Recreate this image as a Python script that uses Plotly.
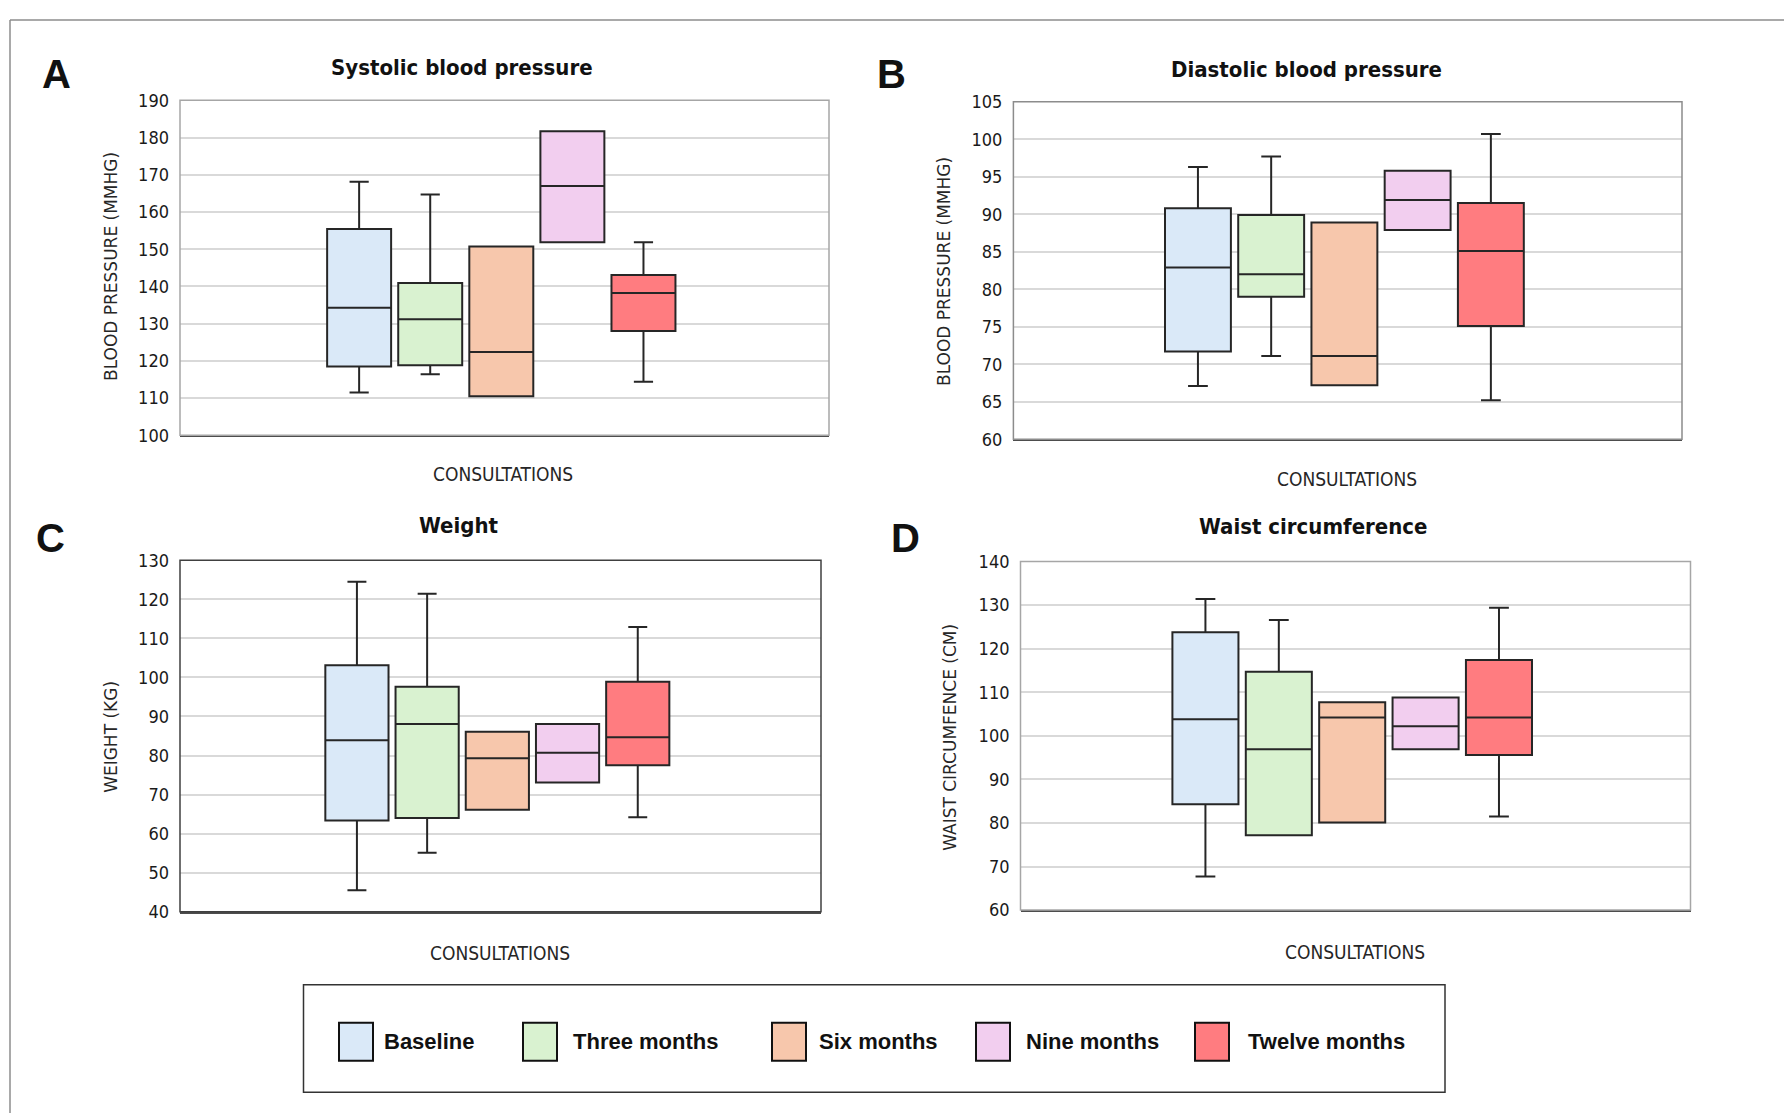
import plotly.graph_objects as go

# Page placement observed in the renderer: x_out = x_fig + 8, y_out = 0.9815 * y_fig + 17.9
OX = 8
OY = 17.9
SY = 0.9815
W, H = 1776, 1116

categories = ["Baseline", "Three months", "Six months", "Nine months", "Twelve months"]
colors = ["#DAE9F8", "#D9F2D0", "#F7C7AC", "#F2CEEF", "#FF7C80"]

# Systolic blood pressure (mmHg)
sbp_lower = [111.5, 116.4, 110.5, 151.9, 114.4]
sbp_q1 = [118.5, 118.8, 110.5, 151.9, 128.0]
sbp_median = [134.3, 131.2, 122.4, 167.0, 138.2]
sbp_q3 = [155.4, 140.9, 150.7, 181.7, 143.1]
sbp_upper = [168.1, 164.7, 150.7, 181.7, 151.9]

# Diastolic blood pressure (mmHg)
dbp_lower = [67.1, 71.1, 67.2, 87.9, 65.2]
dbp_q1 = [71.7, 79.0, 67.2, 87.9, 75.1]
dbp_median = [82.9, 82.0, 71.1, 91.9, 85.1]
dbp_q3 = [90.8, 89.9, 88.9, 95.8, 91.5]
dbp_upper = [96.3, 97.7, 88.9, 95.8, 100.7]

# Weight (kg)
wt_lower = [45.5, 55.1, 66.1, 73.1, 64.2]
wt_q1 = [63.4, 64.0, 66.1, 73.1, 77.5]
wt_median = [83.9, 88.1, 79.3, 80.7, 84.7]
wt_q3 = [103.1, 97.6, 86.1, 88.1, 98.9]
wt_upper = [124.5, 121.4, 86.1, 88.1, 112.9]

# Waist circumference (cm)
wc_lower = [67.7, 77.2, 80.1, 96.9, 81.5]
wc_q1 = [84.3, 77.2, 80.1, 96.9, 95.6]
wc_median = [103.8, 96.9, 104.2, 102.2, 104.2]
wc_q3 = [123.8, 114.7, 107.7, 108.8, 117.4]
wc_upper = [131.4, 126.6, 107.7, 108.8, 129.4]

panel_letters = ["A", "B", "C", "D"]
panel_titles = ["Systolic blood pressure", "Diastolic blood pressure", "Weight", "Waist circumference"]
y_titles = ["BLOOD PRESSURE (MMHG)", "BLOOD PRESSURE (MMHG)", "WEIGHT (KG)", "WAIST CIRCUMFENCE (CM)"]
x_title = "CONSULTATIONS"
y_ranges = [[100, 190], [60, 105], [40, 130], [60, 140]]
y_dticks = [10, 5, 10, 10]


def px(x):
    return (x - OX) / W


def py(y):
    return 1 - ((y - OY) / SY) / H


# plot-area pixel boxes (window coords): left, right, top, bottom
areas = [
    (180, 829, 99.3, 434.3),
    (1013.4, 1682, 100.7, 438.3),
    (180, 821, 559.3, 911),
    (1020.5, 1690.5, 560.7, 909.3),
]
border_colors = ["#a6a6a6", "#8c8c8c", "#404040", "#a6a6a6"]
letter_pos = [(40, 73), (875, 73), (34, 537), (889, 537)]
title_pos = [(462, 66), (1306, 68), (459, 525), (1313, 526)]
ytitle_pos = [(111, 266), (944, 270), (111, 736), (950, 736)]
xtitle_pos = [(503, 473), (1347, 478), (500, 952), (1355, 951)]

panels = [
    (sbp_lower, sbp_q1, sbp_median, sbp_q3, sbp_upper),
    (dbp_lower, dbp_q1, dbp_median, dbp_q3, dbp_upper),
    (wt_lower, wt_q1, wt_median, wt_q3, wt_upper),
    (wc_lower, wc_q1, wc_median, wc_q3, wc_upper),
]

NARROW = "Liberation Sans Narrow, DejaVu Sans Condensed, Arial Narrow, sans-serif"
WIDE = "DejaVu Sans, Verdana, sans-serif"
BOLD = "Liberation Sans, Arial, sans-serif"

fig = go.Figure()
layout = dict(
    width=W, height=H,
    margin=dict(l=0, r=0, t=0, b=0),
    paper_bgcolor="white", plot_bgcolor="white",
    showlegend=False,
    hovermode=False,
)
shapes = []
annotations = []

for i, (lo, q1, med, q3, up) in enumerate(panels):
    n = "" if i == 0 else str(i + 1)
    xa, ya = "x" + n, "y" + n
    for j, cat in enumerate(categories):
        fig.add_trace(go.Box(
            x=[cat], q1=[q1[j]], median=[med[j]], q3=[q3[j]],
            lowerfence=[lo[j]], upperfence=[up[j]],
            width=0.9, whiskerwidth=0.3,
            fillcolor=colors[j],
            line=dict(color="#262626", width=2),
            boxpoints=False, name=cat, showlegend=False,
            xaxis=xa, yaxis=ya,
        ))
    l, r, t, b = areas[i]
    layout["xaxis" + n] = dict(
        domain=[px(l), px(r)], anchor=ya, type="category",
        categoryorder="array", categoryarray=categories,
        range=[-2.52, 6.61], showticklabels=False, showgrid=False,
        zeroline=False, showline=True, linecolor="#4d4d4d", linewidth=1.5,
        ticks="",
    )
    layout["yaxis" + n] = dict(
        domain=[py(b), py(t)], anchor=xa, range=y_ranges[i], dtick=y_dticks[i],
        showgrid=True, gridcolor="#d9d9d9", gridwidth=2, zeroline=False,
        showline=False, ticks="", ticklabelstandoff=10,
        tickfont=dict(family=NARROW, size=18, color="#1a1a1a"),
    )
    shapes.append(dict(
        type="rect", xref=xa + " domain", yref=ya + " domain",
        x0=0, x1=1, y0=0, y1=1, line=dict(color=border_colors[i], width=1.5),
        layer="above",
    ))
    lx, ly = letter_pos[i]
    annotations.append(dict(
        text="<b>%s</b>" % panel_letters[i], x=px(lx), y=py(ly), xref="paper", yref="paper",
        xanchor="left", yanchor="middle", showarrow=False,
        font=dict(family=BOLD, size=40, color="#111111"),
    ))
    tx, ty = title_pos[i]
    annotations.append(dict(
        text="<b>%s</b>" % panel_titles[i], x=px(tx), y=py(ty), xref="paper", yref="paper",
        xanchor="center", yanchor="middle", showarrow=False,
        font=dict(family=NARROW, size=22, color="#111111"),
    ))
    yx, yy = ytitle_pos[i]
    annotations.append(dict(
        text=y_titles[i], x=px(yx), y=py(yy), xref="paper", yref="paper",
        xanchor="center", yanchor="middle", textangle=-90, showarrow=False,
        font=dict(family=WIDE, size=17, color="#262626"),
    ))
    xx, xy = xtitle_pos[i]
    annotations.append(dict(
        text=x_title, x=px(xx), y=py(xy), xref="paper", yref="paper",
        xanchor="center", yanchor="middle", showarrow=False,
        font=dict(family=NARROW, size=19, color="#262626"),
    ))

# Legend box
shapes.append(dict(type="rect", xref="paper", yref="paper",
                   x0=px(303.5), x1=px(1445), y0=py(1091.5), y1=py(984),
                   line=dict(color="#333333", width=1.5)))
swatch_x = [339, 523, 772, 976, 1195]
text_x = [382, 571, 817, 1024, 1246]
for j, cat in enumerate(categories):
    shapes.append(dict(type="rect", xref="paper", yref="paper",
                       x0=px(swatch_x[j]), x1=px(swatch_x[j] + 34),
                       y0=py(1060), y1=py(1022),
                       fillcolor=colors[j], line=dict(color="#111111", width=2)))
    annotations.append(dict(
        text="<b>%s</b>" % cat, x=px(text_x[j]), y=py(1041), xref="paper", yref="paper",
        xanchor="left", yanchor="middle", showarrow=False,
        font=dict(family=BOLD, size=22, color="#111111"),
    ))

# outer frame (top and left edges)
top_frame = 1 - 1.0 / H
shapes.append(dict(type="line", xref="paper", yref="paper",
                   x0=px(10), x1=1.0, y0=top_frame, y1=top_frame,
                   line=dict(color="#8c8c8c", width=1.5)))
shapes.append(dict(type="line", xref="paper", yref="paper",
                   x0=px(10), x1=px(10), y0=top_frame, y1=0,
                   line=dict(color="#8c8c8c", width=1.5)))

layout["shapes"] = shapes
layout["annotations"] = annotations
fig.update_layout(**layout)
fig.write_html("out.html")
